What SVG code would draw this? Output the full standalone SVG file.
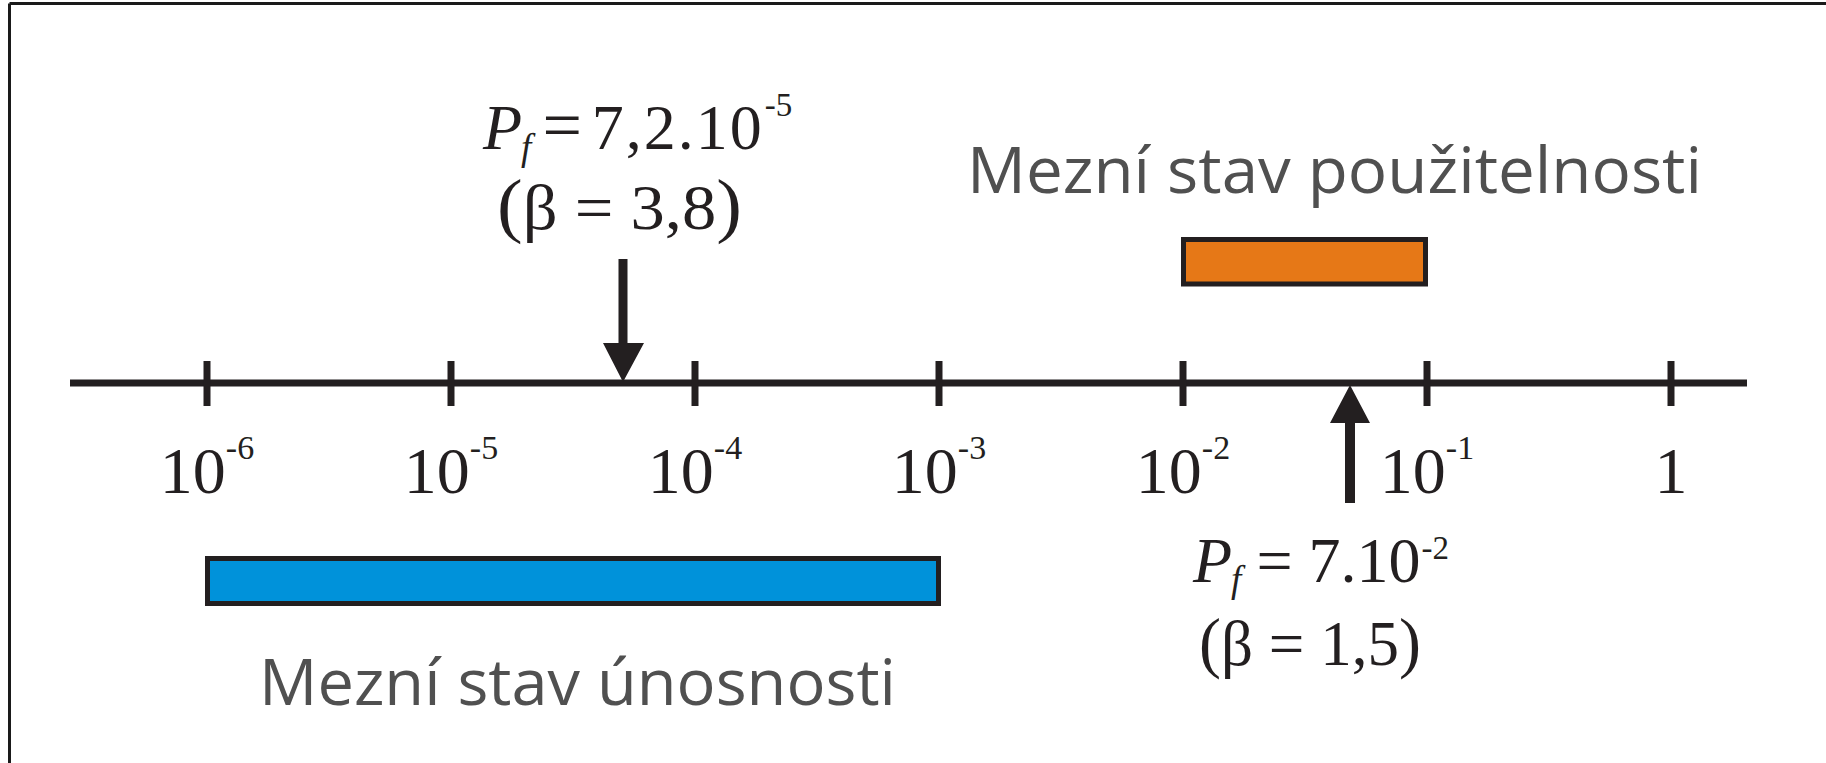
<svg xmlns="http://www.w3.org/2000/svg" width="1826" height="763" viewBox="0 0 1826 763">
<style>
.serif{font-family:"Liberation Serif","Times New Roman",serif;fill:#231f20}
.sans{font-family:"Open Sans","Noto Sans",sans-serif;fill:#505050}
.ax{stroke:#231f20;stroke-width:7;fill:none}
.box{stroke:#231f20;stroke-width:5}
.arr{fill:#231f20}
.it{font-style:italic}
</style>
<rect x="0" y="0" width="1826" height="763" fill="#ffffff"/>
<g id="frame">
<line x1="9.5" y1="3.5" x2="1826" y2="3.5" stroke="#1a1a1a" stroke-width="3"/>
<line x1="9.5" y1="3.5" x2="9.5" y2="763" stroke="#1a1a1a" stroke-width="3"/>
</g>
<g id="axis">
<line class="ax" x1="70" y1="383" x2="1747" y2="383"/>
<line class="ax" x1="207" y1="361" x2="207" y2="406"/>
<line class="ax" x1="451" y1="361" x2="451" y2="406"/>
<line class="ax" x1="695" y1="361" x2="695" y2="406"/>
<line class="ax" x1="939" y1="361" x2="939" y2="406"/>
<line class="ax" x1="1183" y1="361" x2="1183" y2="406"/>
<line class="ax" x1="1427" y1="361" x2="1427" y2="406"/>
<line class="ax" x1="1671" y1="361" x2="1671" y2="406"/>
</g>
<g id="tick-labels" class="serif" font-size="66" text-anchor="middle">
<text x="207" y="493">10<tspan font-size="34" dy="-34">-6</tspan></text>
<text x="451" y="493">10<tspan font-size="34" dy="-34">-5</tspan></text>
<text x="695" y="493">10<tspan font-size="34" dy="-34">-4</tspan></text>
<text x="939" y="493">10<tspan font-size="34" dy="-34">-3</tspan></text>
<text x="1183" y="493">10<tspan font-size="34" dy="-34">-2</tspan></text>
<text x="1427" y="493">10<tspan font-size="34" dy="-34">-1</tspan></text>
<text x="1671" y="493">1</text>
</g>
<g id="sls-bar">
<rect class="box" x="1183.5" y="239.5" width="242" height="44.5" fill="#e67817"/>
<text class="sans" x="967" y="193" font-size="64" textLength="735" lengthAdjust="spacingAndGlyphs">Mezní stav použitelnosti</text>
</g>
<g id="uls-bar">
<rect class="box" x="207.5" y="558.5" width="731" height="45" fill="#0092da"/>
<text class="sans" x="259" y="705" font-size="64" textLength="637" lengthAdjust="spacingAndGlyphs">Mezní stav únosnosti</text>
</g>
<g id="connectors">
<path class="arr" d="M618.5 259 H627.5 V343 H644 L623 382 L603 343 H618.5 Z"/>
<path class="arr" d="M1345 503 H1355 V423 H1370 L1350 385 L1330 423 H1345 Z"/>
</g>
<g id="label-uls" class="serif">
<text x="483" y="149" font-size="64"><tspan class="it">P</tspan><tspan class="it" font-size="37" dx="-1" dy="11">f</tspan><tspan font-size="70" dx="11" dy="-11">=</tspan><tspan dx="10" letter-spacing="2">7,2.10</tspan><tspan font-size="33" dx="1" dy="-33">-5</tspan></text>
<text x="497" y="229" font-size="64" textLength="245" lengthAdjust="spacingAndGlyphs"><tspan font-size="72">(</tspan>β = 3,8<tspan font-size="72">)</tspan></text>
</g>
<g id="label-sls" class="serif">
<text x="1193" y="582" font-size="64"><tspan class="it">P</tspan><tspan class="it" font-size="37" dx="-1" dy="10">f</tspan><tspan dx="15" dy="-10">=</tspan><tspan dx="16">7.10</tspan><tspan font-size="33" dx="1" dy="-23">-2</tspan></text>
<text x="1199" y="665" font-size="64" textLength="222" lengthAdjust="spacingAndGlyphs"><tspan font-size="67">(</tspan>β = 1,5<tspan font-size="67">)</tspan></text>
</g>
</svg>
